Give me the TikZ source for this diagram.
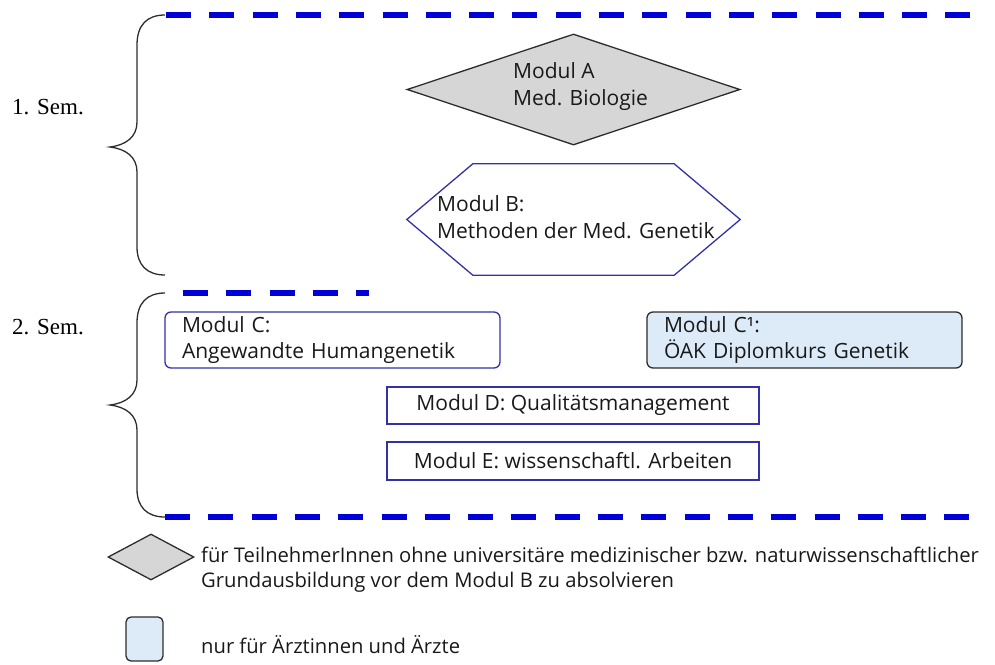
\documentclass[tikz,border=0pt]{standalone}
\usepackage{fontspec}
\setmainfont{Open Sans}
\newfontfamily\semfont{Liberation Serif}
\usetikzlibrary{shapes.geometric}
\definecolor{dashblue}{RGB}{0,0,215}
\definecolor{boxblue}{RGB}{50,50,165}
\definecolor{lightblue}{RGB}{221,234,248}
\definecolor{diagray}{RGB}{214,214,214}
\definecolor{edgegray}{RGB}{45,45,45}
\begin{document}
\begin{tikzpicture}[x=1pt,y=-1pt,
  semdash/.style={draw=dashblue, line width=6pt, dash pattern=on 25pt off 18.3pt},
  bracestyle/.style={draw=edgegray, line width=1.3pt},
  txt/.style={font=\fontsize{21}{27}\selectfont, align=left, inner sep=0pt, text=black!90},
  legtxt/.style={font=\fontsize{20.2}{25}\selectfont, align=left, inner sep=0pt, text=black!90},
  semlabel/.style={font=\semfont\fontsize{23}{27}\selectfont, inner sep=0pt},
  modbox/.style={draw=boxblue, line width=1.3pt, font=\fontsize{21}{26}\selectfont, text=black!90},
  roundbox/.style={modbox, rounded corners=6pt, align=left, inner xsep=17pt},
  docbox/.style={roundbox, draw=edgegray, fill=lightblue},
  squarebox/.style={modbox, align=center},
  diashape/.style={diamond, draw=edgegray, fill=diagray, line width=1.3pt, inner sep=0pt},
  hexline/.style={draw=boxblue, line width=1.3pt}
]
\useasboundingbox (0,0) rectangle (995,664);

% semester labels
\node[semlabel] (sem1) at (48,107) {1. Sem.};
\node[semlabel] (sem2) at (48,327) {2. Sem.};

% braces
\draw[bracestyle] (165,15) .. controls (147,15) and (137,25) .. (137,45) -- (137,122)
  .. controls (137,137) and (126,145) .. (110,147)
  .. controls (126,149) and (137,157) .. (137,172) -- (137,247)
  .. controls (137,265) and (147,275) .. (165,275);
\draw[bracestyle] (165,293) .. controls (147,293) and (137,303) .. (137,323) -- (137,380)
  .. controls (137,395) and (126,403) .. (110,405)
  .. controls (126,407) and (137,415) .. (137,430) -- (137,489)
  .. controls (137,507) and (147,517) .. (165,517);

% dashed lines
\coordinate (t1) at (166,15);  \coordinate (t2) at (971,15);
\coordinate (m1) at (183,293); \coordinate (m2) at (369,293);
\coordinate (b1) at (165,517); \coordinate (b2) at (971,517);
\draw[semdash] (t1) -- (t2);
\draw[semdash] (m1) -- (m2);
\draw[semdash] (b1) -- (b2);

% Modul A
\node[diashape, minimum width=333pt, minimum height=111pt] (A) at (573.5,89.5) {};
\node[txt, anchor=west] (Atext) at (513,87) {Modul A\\Med. Biologie};

% Modul B hexagon
\node[minimum width=333pt, minimum height=111pt, inner sep=0pt] (B) at (573.5,219.5) {};
\draw[hexline] (B.west) -- ([xshift=66pt]B.north west) -- ([xshift=-66pt]B.north east)
  -- (B.east) -- ([xshift=-66pt]B.south east) -- ([xshift=66pt]B.south west) -- cycle;
\node[txt, anchor=west] (Btext) at (437,217) {Modul B:\\Methoden der Med. Genetik};

% Modul C, C1, D, E
\node[roundbox, minimum width=335pt, minimum height=56pt, text width=301pt] (C) at (332.5,340)
  {Modul C:\\\mbox{Angewandte Humangenetik}};
\node[docbox, minimum width=315pt, minimum height=56pt, text width=281pt] (C1) at (804.5,340)
  {Modul C¹:\\\mbox{ÖAK Diplomkurs Genetik}};
\node[squarebox, minimum width=372pt, minimum height=37pt] (D) at (573,405.5)
  {Modul D: Qualitätsmanagement};
\node[squarebox, minimum width=372pt, minimum height=38pt] (E) at (573,461)
  {Modul E: wissenschaftl. Arbeiten};

% legend
\node[diashape, minimum width=86pt, minimum height=46pt] (L1) at (151,557) {};
\node[legtxt, anchor=west] (L1text) at (201,570)
  {für TeilnehmerInnen ohne universitäre medizinischer bzw. naturwissenschaftlicher\\Grundausbildung vor dem Modul B zu absolvieren};
\node[draw=edgegray, fill=lightblue, line width=1.3pt, rounded corners=5pt,
  minimum width=37pt, minimum height=44pt, inner sep=0pt] (L2) at (144.5,639) {};
\node[legtxt, anchor=west] (L2text) at (201,645) {nur für Ärztinnen und Ärzte};
\end{tikzpicture}
\end{document}
